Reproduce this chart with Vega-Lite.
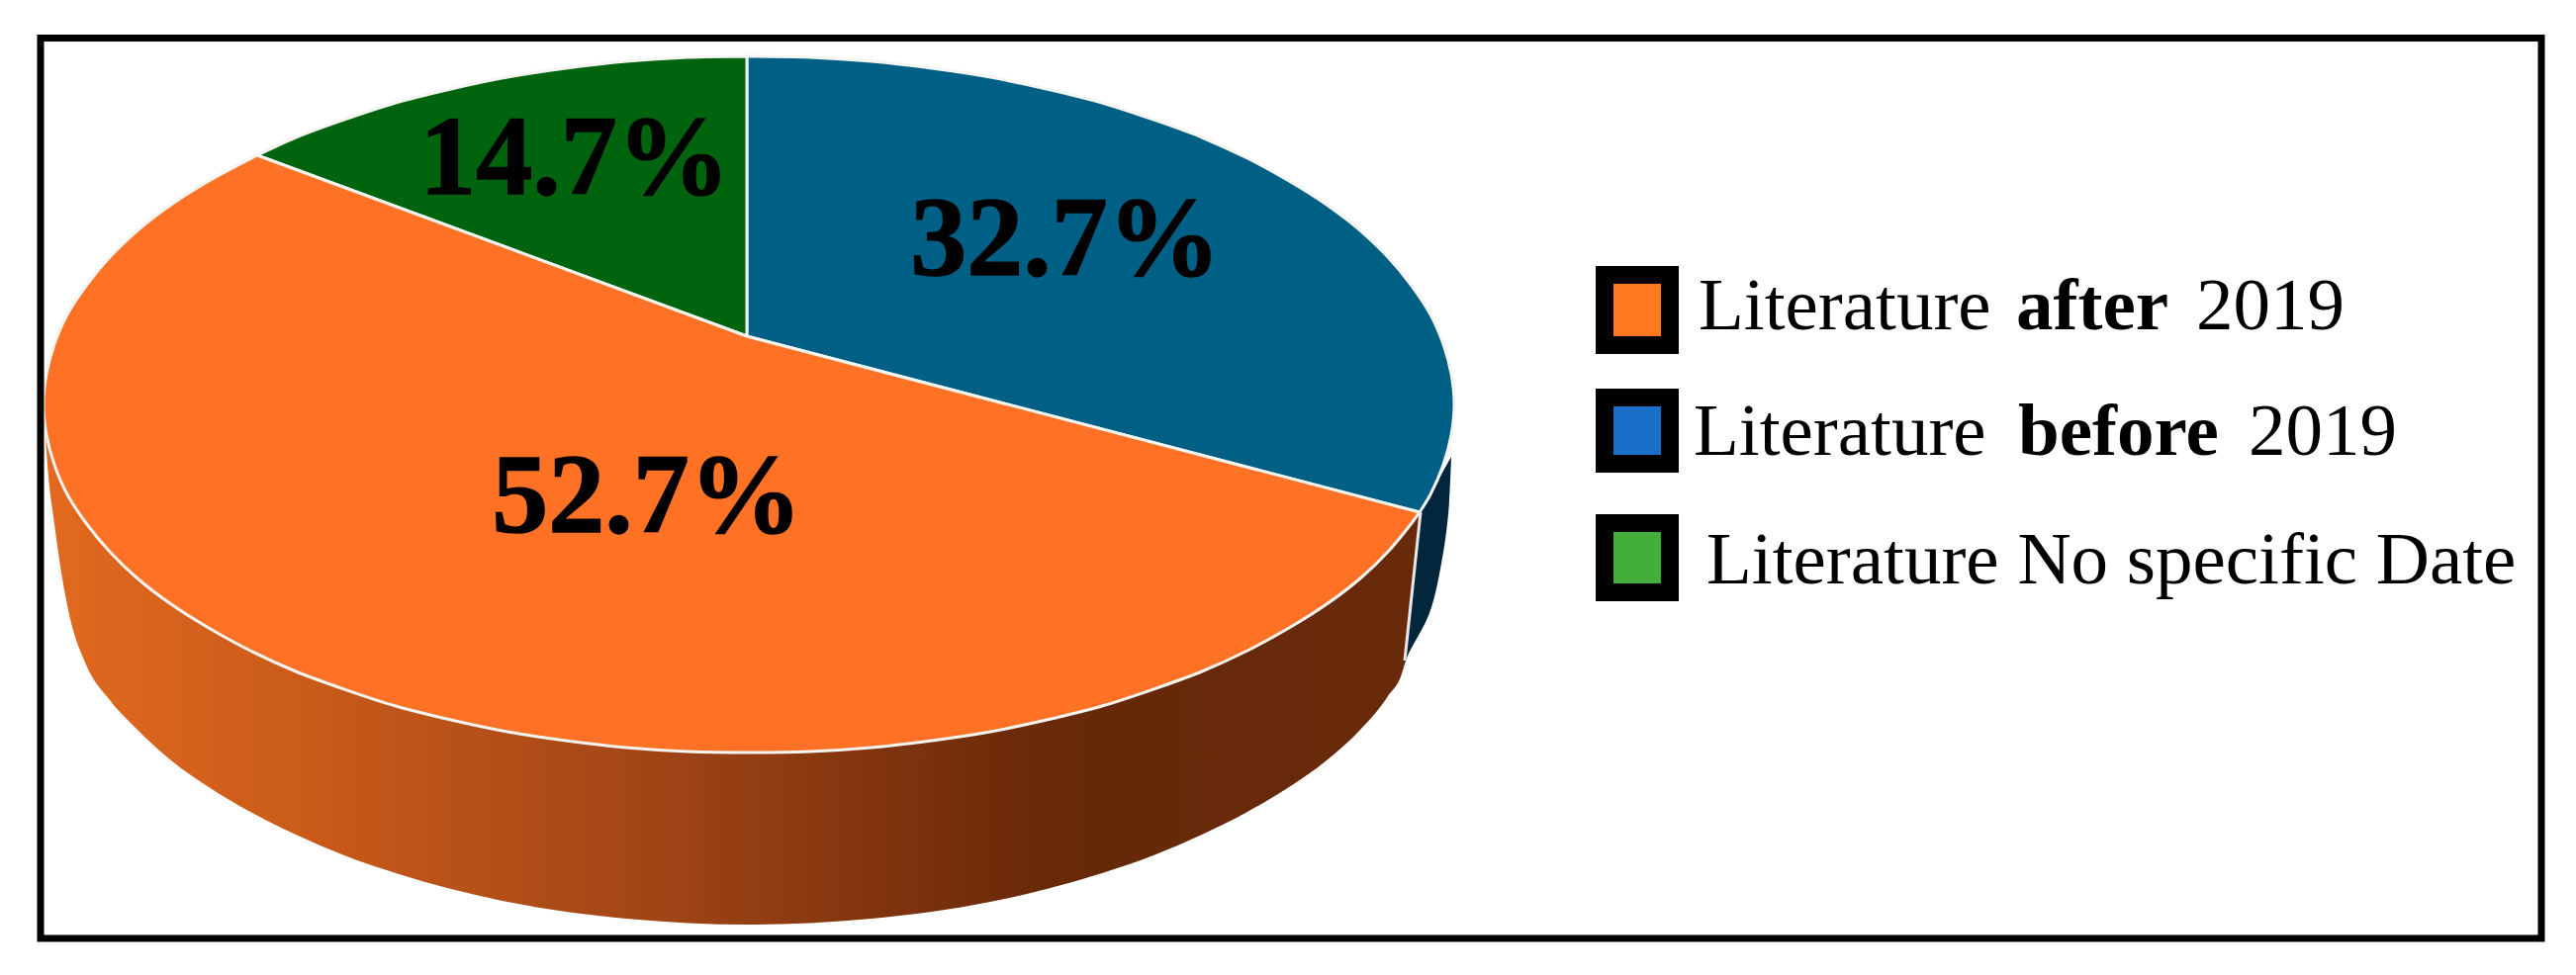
{"$schema":"https://vega.github.io/schema/vega-lite/v6.json","width":2604,"height":986,"autosize":{"type":"fit","contains":"padding"},"padding":0,"background":"white","config":{"view":{"stroke":null},"axis":{"domain":false,"grid":false,"ticks":false,"labels":false,"title":null}},
"datasets":{
"sectors":[
{"s":"before","i":-0.5,"x":755,"y":340},{"s":"before","i":0,"x":755,"y":340},{"s":"before","i":1,"x":755,"y":57},{"s":"before","i":1.5,"x":755,"y":57},{"s":"before","i":2,"x":819,"y":58},{"s":"before","i":3,"x":881,"y":62},{"s":"before","i":4,"x":942,"y":69},{"s":"before","i":5,"x":1001,"y":78},{"s":"before","i":6,"x":1058,"y":90},{"s":"before","i":7,"x":1114,"y":104},{"s":"before","i":8,"x":1166,"y":121},{"s":"before","i":9,"x":1215,"y":139},{"s":"before","i":10,"x":1261,"y":160},{"s":"before","i":11,"x":1303,"y":183},{"s":"before","i":12,"x":1341,"y":207},{"s":"before","i":13,"x":1375,"y":233},{"s":"before","i":14,"x":1403,"y":260},{"s":"before","i":15,"x":1427,"y":289},{"s":"before","i":16,"x":1446,"y":318},{"s":"before","i":17,"x":1459,"y":348},{"s":"before","i":18,"x":1467,"y":378},{"s":"before","i":19,"x":1470,"y":409},{"s":"before","i":20,"x":1467,"y":440},{"s":"before","i":21,"x":1459,"y":470},{"s":"before","i":22,"x":1446,"y":500},{"s":"before","i":23,"x":1435,"y":518},{"s":"before","i":23.5,"x":1435,"y":518},{"s":"before","i":24,"x":755,"y":340},{"s":"before","i":24.5,"x":755,"y":340},
{"s":"none","i":-0.5,"x":755,"y":340},{"s":"none","i":0,"x":755,"y":340},{"s":"none","i":1,"x":260,"y":157},{"s":"none","i":1.5,"x":260,"y":157},{"s":"none","i":2,"x":299,"y":139},{"s":"none","i":3,"x":348,"y":121},{"s":"none","i":4,"x":400,"y":104},{"s":"none","i":5,"x":456,"y":90},{"s":"none","i":6,"x":513,"y":78},{"s":"none","i":7,"x":572,"y":69},{"s":"none","i":8,"x":633,"y":62},{"s":"none","i":9,"x":695,"y":58},{"s":"none","i":10,"x":755,"y":57},{"s":"none","i":10.5,"x":755,"y":57},{"s":"none","i":11,"x":755,"y":340},{"s":"none","i":11.5,"x":755,"y":340},
{"s":"after","i":-0.5,"x":755,"y":340},{"s":"after","i":0,"x":755,"y":340},{"s":"after","i":1,"x":1435,"y":518},{"s":"after","i":1.5,"x":1435,"y":518},{"s":"after","i":2,"x":1427,"y":529},{"s":"after","i":3,"x":1403,"y":558},{"s":"after","i":4,"x":1375,"y":585},{"s":"after","i":5,"x":1341,"y":611},{"s":"after","i":6,"x":1303,"y":635},{"s":"after","i":7,"x":1261,"y":658},{"s":"after","i":8,"x":1215,"y":679},{"s":"after","i":9,"x":1166,"y":697},{"s":"after","i":10,"x":1114,"y":714},{"s":"after","i":11,"x":1058,"y":728},{"s":"after","i":12,"x":1001,"y":740},{"s":"after","i":13,"x":942,"y":749},{"s":"after","i":14,"x":881,"y":756},{"s":"after","i":15,"x":819,"y":760},{"s":"after","i":16,"x":757,"y":761},{"s":"after","i":17,"x":695,"y":760},{"s":"after","i":18,"x":633,"y":756},{"s":"after","i":19,"x":572,"y":749},{"s":"after","i":20,"x":513,"y":740},{"s":"after","i":21,"x":456,"y":728},{"s":"after","i":22,"x":400,"y":714},{"s":"after","i":23,"x":348,"y":697},{"s":"after","i":24,"x":299,"y":679},{"s":"after","i":25,"x":253,"y":658},{"s":"after","i":26,"x":211,"y":635},{"s":"after","i":27,"x":173,"y":611},{"s":"after","i":28,"x":139,"y":585},{"s":"after","i":29,"x":111,"y":558},{"s":"after","i":30,"x":87,"y":529},{"s":"after","i":31,"x":68,"y":500},{"s":"after","i":32,"x":55,"y":470},{"s":"after","i":33,"x":47,"y":440},{"s":"after","i":34,"x":44,"y":409},{"s":"after","i":35,"x":47,"y":378},{"s":"after","i":36,"x":55,"y":348},{"s":"after","i":37,"x":68,"y":318},{"s":"after","i":38,"x":87,"y":289},{"s":"after","i":39,"x":111,"y":260},{"s":"after","i":40,"x":139,"y":233},{"s":"after","i":41,"x":173,"y":207},{"s":"after","i":42,"x":211,"y":183},{"s":"after","i":43,"x":260,"y":157},{"s":"after","i":43.5,"x":260,"y":157},{"s":"after","i":45,"x":755,"y":340},{"s":"after","i":45.5,"x":755,"y":340}
],
"wallAfter":[
{"x":46,"t":440,"b":440},{"x":48,"t":447,"b":470},{"x":55,"t":470,"b":530},{"x":68,"t":500,"b":612},{"x":87,"t":529,"b":672},{"x":111,"t":558,"b":708},{"x":139,"t":585,"b":738},{"x":173,"t":611,"b":769},{"x":211,"t":635,"b":796},{"x":253,"t":658,"b":821},{"x":299,"t":679,"b":844},{"x":348,"t":697,"b":865},{"x":400,"t":714,"b":883},{"x":456,"t":728,"b":899},{"x":513,"t":740,"b":912},{"x":572,"t":749,"b":922},{"x":633,"t":756,"b":929},{"x":695,"t":760,"b":933.5},{"x":757,"t":761,"b":935},{"x":819,"t":760,"b":933.5},{"x":881,"t":756,"b":929},{"x":942,"t":749,"b":922},{"x":1001,"t":740,"b":912},{"x":1058,"t":728,"b":899},{"x":1114,"t":714,"b":883},{"x":1166,"t":697,"b":865},{"x":1215,"t":679,"b":844},{"x":1261,"t":658,"b":821},{"x":1303,"t":635,"b":796},{"x":1341,"t":611,"b":769},{"x":1375,"t":585,"b":738},{"x":1403,"t":558,"b":704},{"x":1418,"t":541,"b":678},{"x":1435,"t":518,"b":518}
],
"wallBefore":[
{"s":"before wall","i":0,"x":1436,"y":518},{"s":"before wall","i":0.5,"x":1436,"y":518},{"s":"before wall","i":1,"x":1467,"y":462},{"s":"before wall","i":1.5,"x":1467,"y":462},{"s":"before wall","i":2,"x":1464,"y":520},{"s":"before wall","i":3,"x":1457,"y":570},{"s":"before wall","i":4,"x":1445,"y":620},{"s":"before wall","i":5,"x":1423,"y":663},{"s":"before wall","i":6,"x":1418,"y":678},{"s":"before wall","i":6.5,"x":1418,"y":678},{"s":"before wall","i":7,"x":1436,"y":518},{"s":"before wall","i":7.5,"x":1436,"y":518}
],
"edge":[{"i":0,"x":1436,"y":518},{"i":1,"x":1420,"y":668}],
"frame":[{"x":41,"x2":2569,"y":38.5,"y2":949}],
"shares":[{"label":"Literature after 2019","share":0.527,"x":654,"y":538},{"label":"Literature before 2019","share":0.327,"x":1077,"y":278},{"label":"Literature No specific Date","share":0.147,"x":581,"y":196}],
"swatches":[{"s":"after","x":1622,"x2":1688,"y":278,"y2":349},{"s":"before","x":1622,"x2":1688,"y":402,"y2":469},{"s":"none","x":1622,"x2":1688,"y":529,"y2":599}],
"plain":[{"t":"Literature","x":1717,"y":333},{"t":"2019","x":2220,"y":333},{"t":"Literature","x":1712,"y":460},{"t":"2019","x":2273,"y":460},{"t":"Literature No specific Date","x":1725,"y":590}],
"bold":[{"t":"after","x":2038,"y":333},{"t":"before","x":2040,"y":460}]
},
"resolve":{"scale":{"color":"independent"}},
"encoding":{"x":{"field":"x","type":"quantitative","scale":{"domain":[0,2604],"nice":false,"zero":false},"axis":null},"y":{"field":"y","type":"quantitative","scale":{"domain":[0,986],"reverse":true,"nice":false,"zero":false},"axis":null}},
"layer":[
{"data":{"name":"wallBefore"},"mark":{"type":"line","filled":true,"fill":"#02263C","strokeWidth":0,"interpolate":"catmull-rom"},"encoding":{"order":{"field":"i","type":"quantitative"}}},
{"data":{"name":"wallAfter"},"mark":{"type":"area","orient":"vertical","interpolate":"monotone","color":{"gradient":"linear","x1":0,"x2":1,"y1":0,"y2":0,"stops":[{"offset":0,"color":"#E2691F"},{"offset":0.2,"color":"#C85A19"},{"offset":0.45,"color":"#A04416"},{"offset":0.7,"color":"#6E2B09"},{"offset":0.76,"color":"#662908"},{"offset":1,"color":"#692A0A"}]}},"encoding":{"y":{"field":"t","type":"quantitative"},"y2":{"field":"b"}}},
{"data":{"name":"edge"},"mark":{"type":"line","color":"#E8E8E8","strokeWidth":3},"encoding":{"order":{"field":"i","type":"quantitative"}}},
{"data":{"name":"sectors"},"mark":{"type":"line","filled":true,"interpolate":"catmull-rom","stroke":"#F4F4F0","strokeWidth":3,"strokeJoin":"round","strokeCap":"round"},"encoding":{"order":{"field":"i","type":"quantitative"},"color":{"field":"s","type":"nominal","legend":null,"scale":{"domain":["after","before","none"],"range":["#FF7124","#005F85","#00640F"]}}}},
{"data":{"name":"frame"},"mark":{"type":"rect","fill":null,"stroke":"black","strokeWidth":7},"encoding":{"x2":{"field":"x2"},"y2":{"field":"y2"}}},
{"data":{"name":"shares"},"mark":{"type":"text","font":"Liberation Serif","fontWeight":"bold","fontSize":114,"align":"center","baseline":"alphabetic","color":"black","stroke":"black","strokeWidth":1.5},"encoding":{"text":{"field":"share","type":"quantitative","format":".1%"}}},
{"data":{"name":"swatches"},"mark":{"type":"rect","stroke":"black","strokeWidth":18},"encoding":{"x2":{"field":"x2"},"y2":{"field":"y2"},"color":{"field":"s","type":"nominal","legend":null,"scale":{"domain":["after","before","none"],"range":["#FF7A1E","#1A70C8","#44AE3A"]}}}},
{"data":{"name":"plain"},"mark":{"type":"text","font":"Liberation Serif","fontSize":75,"align":"left","baseline":"alphabetic","color":"black"},"encoding":{"text":{"field":"t"}}},
{"data":{"name":"bold"},"mark":{"type":"text","font":"Liberation Serif","fontWeight":"bold","fontSize":75,"align":"left","baseline":"alphabetic","color":"black"},"encoding":{"text":{"field":"t"}}}
]}
